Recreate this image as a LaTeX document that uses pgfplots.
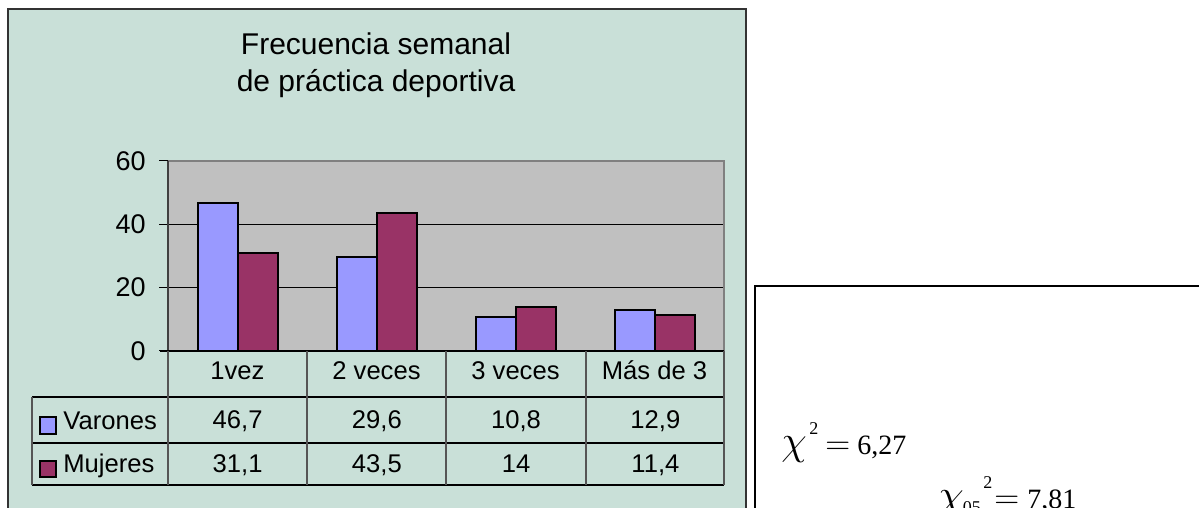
\documentclass[border=0pt]{standalone}
\usepackage{pgfplots}
\pgfplotsset{compat=1.18}
\usepackage{fontspec}
\setmainfont{Liberation Sans}
\newfontfamily\seriffont{Liberation Serif}

\definecolor{chartbg}{RGB}{201,224,216}
\definecolor{plotgray}{RGB}{192,192,192}
\definecolor{varones}{RGB}{153,153,255}
\definecolor{mujeres}{RGB}{153,51,102}
\definecolor{linegray}{RGB}{85,85,85}

\begin{document}
\begin{tikzpicture}[x=0.5pt,y=0.5pt]
\fontsize{12.8}{15}\selectfont
\clip (0,0) rectangle (1199,508);
\fill[white] (0,0) rectangle (1199,508);

% chart area
\filldraw[fill=chartbg, draw=black!80, line width=0.75pt] (8,499) rectangle (746,-22);

% title
\node[anchor=base, font=\fontsize{15}{18}\selectfont] at (376,453) {Frecuencia semanal};
\node[anchor=base, font=\fontsize{15}{18}\selectfont] at (376,416) {de práctica deportiva};

\begin{axis}[
  at={(84pt,78.5pt)}, anchor=south west,
  width=278pt, height=95pt, scale only axis,
  xmin=0.5, xmax=4.5, ymin=0, ymax=60,
  ybar=0pt, bar width=20pt,
  axis background/.style={fill=plotgray},
  axis line style={draw=none},
  ytick={0,20,40,60},
  ymajorgrids, grid style={black, line width=0.5pt},
  ytick pos=left, ytick align=outside, xtick align=inside,
  major tick length=4.5pt,
  ytick style={black, line width=0.5pt},
  /pgf/number format/assume math mode=true,
  yticklabel style={font=\fontsize{13.5}{16}\selectfont, inner xsep=0pt, xshift=-6.5pt},
  xtick={1,2,3,4},
  xticklabels={1vez,2 veces,3 veces,Más de 3},
  xtick style={draw=none},
  xticklabel style={font=\fontsize{12.8}{15}\selectfont, anchor=base, yshift=-14.5pt},
  clip=false,
]
\addplot[fill=varones, draw=black, line width=1pt] coordinates {(1,46.7) (2,29.6) (3,10.8) (4,12.9)};
\addplot[fill=mujeres, draw=black, line width=1pt] coordinates {(1,31.1) (2,43.5) (3,14) (4,11.4)};
\end{axis}

% plot frame
\draw[black!50, line width=0.75pt] (168,347) -- (724,347) -- (724,157);
\draw[black!75, line width=0.9pt] (168,347) -- (168,157);
\draw[black, line width=0.75pt] (160,157) -- (724,157);

% data table
\draw[black, line width=0.6pt] (32,111) -- (724,111) (32,65) -- (724,65) (32,23) -- (724,23);
\draw[linegray, line width=0.6pt] (32,111) -- (32,23);
\foreach \xx in {168,307,446,586,724} \draw[linegray, line width=0.6pt] (\xx,157) -- (\xx,23);

\filldraw[fill=varones, draw=black, line width=0.75pt] (40,91) rectangle (56,74);
\filldraw[fill=mujeres, draw=black, line width=0.75pt] (40,47) rectangle (56,31);
\node[anchor=base west, inner sep=0pt] at (63,78) {Varones};
\node[anchor=base west, inner sep=0pt] at (63,35) {Mujeres};

\foreach \xx/\v in {237.6/{46,7},376.9/{29,6},516/{10,8},655.4/{12,9}}
  \node[anchor=base, inner sep=0pt] at (\xx,79) {\v};
\foreach \xx/\v in {237.6/{31,1},376.9/{43,5},516/{14},655.4/{11,4}}
  \node[anchor=base, inner sep=0pt] at (\xx,35) {\v};

% statistics box
\draw[black, line width=0.75pt] (755,222) rectangle (1230,-32);
\begin{scope}[every node/.style={anchor=base west, inner sep=0pt}]
\node at (781,53) {\fontsize{21}{24}\selectfont$\chi$};
\node at (809,73) {\seriffont\fontsize{9}{10}\selectfont 2};
\node at (825,53) {\fontsize{16}{18}\selectfont$=$};
\node at (857,53) {\seriffont\fontsize{14}{16}\selectfont 6,27};
\node at (938,-1) {\fontsize{21}{24}\selectfont$\chi$};
\node at (958,-6) {\seriffont\fontsize{9}{10}\selectfont .05};
\node at (983,19) {\seriffont\fontsize{9}{10}\selectfont 2};
\node at (994,-1) {\fontsize{16}{18}\selectfont$=$};
\node at (1027,-1) {\seriffont\fontsize{14}{16}\selectfont 7,81};
\end{scope}
\end{tikzpicture}
\end{document}
